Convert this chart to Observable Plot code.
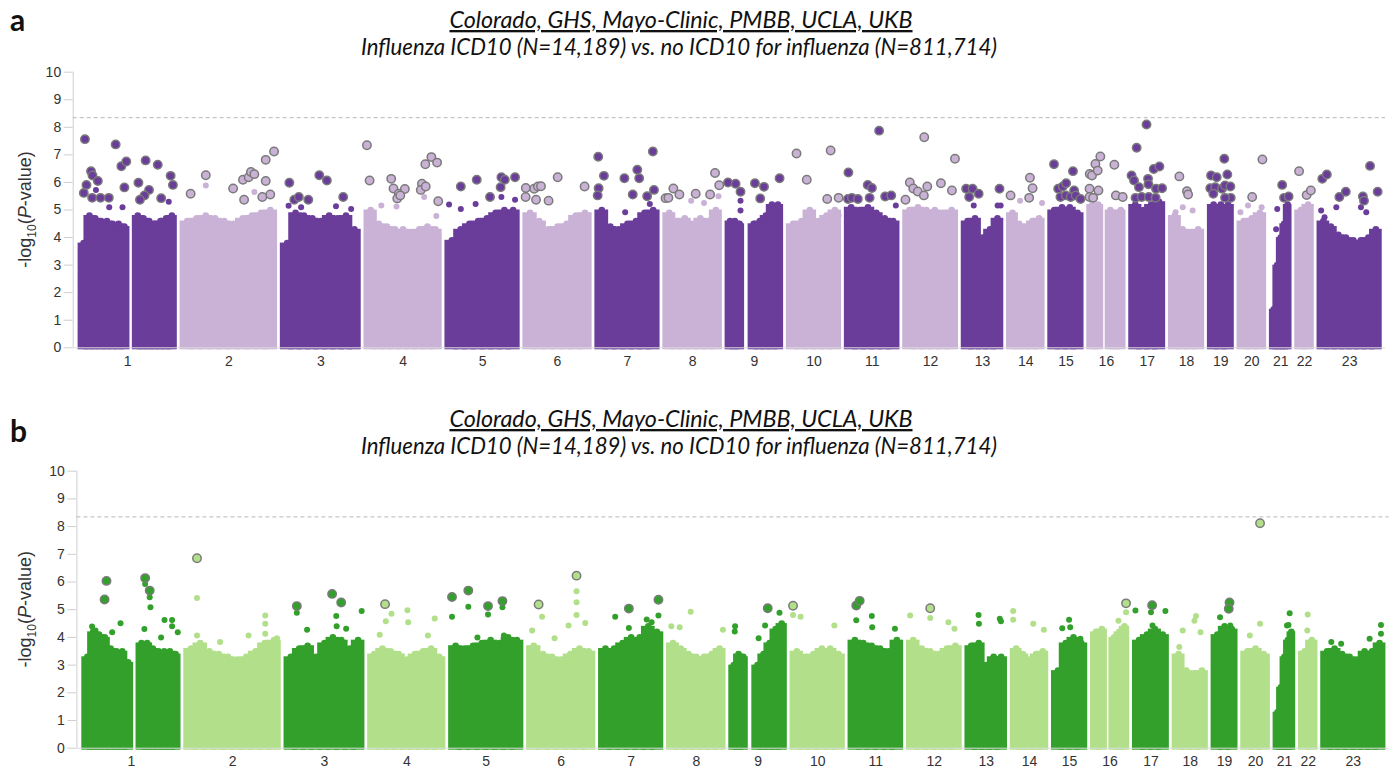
<!DOCTYPE html>
<html><head><meta charset="utf-8">
<script src="https://cdn.jsdelivr.net/npm/d3@7"></script>
<script src="https://cdn.jsdelivr.net/npm/@observablehq/plot@0.6"></script>
<style>
html,body{margin:0;padding:0;background:#fff;overflow:hidden;}
#wrap{position:relative;width:1395px;height:769px;}
.panel{position:absolute;left:0;}
#overlay{position:absolute;left:0;top:0;pointer-events:none;}
</style></head><body>
<div id="wrap">
  <div id="pa" class="panel" style="top:60px"></div>
  <div id="pb" class="panel" style="top:459px"></div>
  <svg id="overlay" width="1395" height="769"></svg>
</div>
<script>
// ---------- data ----------
const chromLabels = ["1","2","3","4","5","6","7","8","9","10","11","12","13","14","15","16","17","18","19","20","21","22","23"];
const chromStartMb = [0.8,0.0,0.1,0.1,0.0,0.2,0.0,0.2,0.2,0.1,0.2,0.1,19.0,19.2,20.5,0.1,0.0,0.0,0.3,0.0,2.2,13.5,0.0];
const chromEndMb   = [248.7,243.4,199.7,192.6,184.6,169.0,158.2,143.4,140.8,132.0,133.1,133.5,117.4,107.0,102.3,89.8,83.6,81.8,57.5,64.3,48.1,51.2,158.2];
const centromereGapMb = [[1,123.8,143.8],[9,37.9,60.9],[16,31.0,48.7]];
const chromGapMb = 21;
const thresholdLogP = 8.35;

const titleText = "Colorado, GHS, Mayo-Clinic, PMBB, UCLA, UKB";
const subtitleText = "Influenza ICD10 (N=14,189) vs. no ICD10 for influenza (N=811,714)";

const purpleColors = ["#6a3d9a", "#cab2d6"];
const greenColors = ["#33a02c", "#b2df8a"];

// dense body envelope (-log10 P) per chromosome, per segment, left to right
const bodyA = [
  [[3.8,4.8,4.7,4.6,4.6,4.5,4.5,4.4],[4.8,4.7,4.6,4.5,4.6,4.7,4.8]],
  [[4.6,4.7,4.8,4.7,4.6,4.5,4.7,4.8,4.9,5.0]],
  [[3.8,4.9,4.8,4.7,4.6,4.8,4.7,4.8,4.3]],
  [[5.0,4.5,4.4,4.3,4.3,4.2,4.3,4.4,4.3]],
  [[3.9,4.3,4.5,4.6,4.7,4.9,5.0,5.0]],
  [[4.9,4.6,4.3,4.4,4.5,4.8,4.9]],
  [[5.0,4.4,4.3,4.5,4.6,4.9,5.0]],
  [[4.9,4.6,4.7,4.5,4.7,4.6,5.0]],
  [[4.6,4.6,4.5],[4.5,4.6,4.8,5.2,5.2]],
  [[4.5,4.6,5.0,4.6,4.8,5.0]],
  [[5.1,5.0,5.1,4.9,4.7,4.6]],
  [[5.0,5.1,5.0,5.0,4.9,5.0]],
  [[4.6,4.7,4.0,4.3,4.7]],
  [[4.9,4.5,4.4,4.6,4.7]],
  [[5.0,5.1,5.1,4.9]],
  [[5.2,5.2],[5.0,4.9,5.0]],
  [[5.2,5.0,5.2,5.3]],
  [[4.8,4.3,4.2,4.3]],
  [[5.2,5.2,5.2]],
  [[4.6,4.7,4.9]],
  [[1.4,3.0,4.0,4.5,5.2]],
  [[5.0,5.2]],
  [[4.6,4.4,4.1,4.0,3.9,3.9,4.0,4.3]]
];
const bodyB = [
  [[3.3,4.2,4.1,4.0,3.6,3.5,3.5,3.1],[3.8,3.8,3.6,3.5,3.5,3.5,3.4]],
  [[3.6,3.8,3.5,3.4,3.3,3.2,3.3,3.5,3.8,3.9]],
  [[3.3,3.6,3.7,3.3,3.8,4.0,3.9,3.6,3.9]],
  [[3.4,3.6,3.5,3.4,3.2,3.4,3.5,3.6,3.3]],
  [[3.7,3.6,3.7,3.8,3.9,3.8,4.0,3.9]],
  [[3.7,3.4,3.3,3.2,3.4,3.6,3.5]],
  [[3.6,3.6,3.8,4.0,4.0,4.4,4.2]],
  [[3.8,3.6,3.4,3.3,3.3,3.4,3.6]],
  [[3.0,3.4,3.3],[3.0,3.4,3.8,4.3,4.5]],
  [[3.5,3.3,3.4,3.6,3.6,3.4]],
  [[3.9,3.8,3.7,3.6,3.5,3.9]],
  [[3.9,3.6,3.5,3.4,3.6,3.7]],
  [[3.7,3.8,3.0,3.3,3.3]],
  [[3.6,3.4,3.2,3.4,3.5]],
  [[2.8,3.8,4.0,3.8]],
  [[4.2,4.3],[4.0,4.2,4.4]],
  [[3.9,4.1,4.3,4.1]],
  [[3.4,2.8,2.7,2.8]],
  [[4.1,4.4,4.3]],
  [[3.5,3.6,3.4]],
  [[1.3,2.2,3.3,3.9,4.2]],
  [[3.5,3.9]],
  [[3.5,3.6,3.4,3.3,3.2,3.5,3.5,3.8]]
];

// individual variants above the body: [chromosome, position Mb, -log10 P, index SNP (ringed)]
const pointsA = [
[1,12,7.57,1],[1,16,5.91,1],[1,9,5.62,1],[1,28,6.41,1],[1,32,6.25,1],[1,46,6.05,1],[1,31,5.44,1],[1,53,5.44,1],[1,75,5.44,1],[1,41,5.73,0],[1,93,7.38,1],[1,108,6.59,1],[1,121,6.76,1],[1,116,5.82,1],[1,76,5.10,0],[1,111,5.10,0],
[1,153,5.99,1],[1,172,6.80,1],[1,204,6.64,1],[1,181,5.73,1],[1,169,5.53,1],[1,213,5.43,1],[1,238,6.24,1],[1,244,5.91,1],[1,233,5.30,0],[1,157,5.37,1],
[2,21,5.59,1],[2,61,6.26,1],[2,61,5.89,0],[2,133,5.78,1],[2,159,6.10,1],[2,162,5.37,1],[2,174,6.19,1],[2,180,6.38,1],[2,189,6.30,1],[2,219,6.82,1],[2,241,7.12,1],[2,219,6.05,1],[2,231,5.56,1],[2,210,5.47,1],[2,189,5.65,0],
[3,17,5.99,1],[3,30,5.37,1],[3,42,5.47,1],[3,67,5.37,1],[3,96,6.26,1],[3,116,6.07,1],[3,159,5.47,1],[3,15,5.15,0],[3,48,5.10,0],[3,140,5.14,0],[3,180,5.04,0],
[4,1,7.35,1],[4,8,6.07,1],[4,65,6.13,1],[4,71,5.78,1],[4,85,5.59,1],[4,81,5.42,1],[4,101,5.76,1],[4,89,5.53,1],[4,146,5.95,1],[4,143,5.73,1],[4,156,5.85,1],[4,155,6.66,1],[4,171,6.92,1],[4,186,6.72,1],[4,189,5.32,1],[4,152,5.47,0],[4,184,4.78,0],[4,39,5.16,0],[4,79,5.13,0],
[5,35,5.85,1],[5,77,6.10,1],[5,142,6.19,1],[5,151,6.10,1],[5,178,6.19,1],[5,140,5.83,1],[5,112,5.47,1],[5,142,5.47,0],[5,178,5.37,0],[5,74,5.22,0],[5,4,5.20,0],[5,35,5.04,0],
[6,1,5.80,1],[6,0.5,5.47,1],[6,23,5.77,1],[6,33,5.85,1],[6,41,5.86,1],[6,28,5.37,1],[6,61,5.34,1],[6,85,6.19,1],[6,156,5.85,1],
[7,2,6.93,1],[7,17,6.24,1],[7,3,5.79,1],[7,0.5,5.53,1],[7,71,6.15,1],[7,105,6.46,1],[7,110,6.15,1],[7,93,5.56,1],[7,146,7.12,1],[7,149,5.73,1],[7,131,5.50,1],[7,138,5.22,0],[7,73,4.92,0],
[8,0.5,5.43,1],[8,8,5.44,1],[8,21,5.78,1],[8,37,5.56,1],[8,80,5.59,1],[8,118,5.56,1],[8,131,6.34,1],[8,142,5.90,1],[8,140,5.50,0],[8,68,5.34,0],[8,102,5.25,0],
[9,1,6.00,1],[9,21,5.95,1],[9,34,5.66,1],[9,34,5.34,0],[9,34,4.98,0],[9,72,5.97,1],[9,96,5.84,1],[9,86,5.42,1],[9,137,6.15,1],
[10,20,7.05,1],[10,47,6.10,1],[10,101,5.40,1],[10,110,7.16,1],[10,131,5.44,1],[10,131,4.80,0],
[11,4,6.36,1],[11,3,5.40,1],[11,13,5.44,1],[11,29,5.40,1],[11,55,5.91,1],[11,66,5.80,1],[11,60,5.44,1],[11,85,7.88,1],[11,101,5.49,1],[11,117,5.53,1],[11,129,5.16,0],
[12,12,6.00,1],[12,21,5.78,1],[12,50,7.64,1],[12,58,5.85,1],[12,33,5.67,1],[12,49,5.53,1],[12,0.5,5.37,1],[12,94,5.97,1],[12,123,5.71,1],[12,131,6.86,1],
[13,25,5.77,1],[13,42,5.77,1],[13,33,5.47,1],[13,58,5.59,1],[13,113,5.77,1],[13,45,5.16,0],[13,108,5.16,0],[13,116,5.16,0],
[14,23,5.53,1],[14,74,6.17,1],[14,81,5.79,1],[14,72,5.44,1],[14,106,5.25,0],[14,48,5.34,0],
[15,30,6.66,1],[15,80,6.41,1],[15,41,5.77,1],[15,53,5.85,1],[15,62,5.97,1],[15,83,5.71,1],[15,47,5.47,1],[15,61,5.53,1],[15,74,5.47,1],[15,87,5.53,1],[15,100,5.40,1],
[16,1,6.31,1],[16,7,6.25,1],[16,0.5,5.77,1],[16,0.5,5.47,1],[16,16,6.67,1],[16,29,6.94,1],[16,22,6.43,1],[16,24,5.71,1],[16,10,5.44,1],[16,66,6.64,1],[16,70,5.53,1],[16,88,5.47,1],
[17,40,8.10,1],[17,14,7.26,1],[17,0.5,6.25,1],[17,7,6.07,1],[17,20,5.83,1],[17,44,6.13,1],[17,45,5.93,1],[17,59,6.49,1],[17,74,6.58,1],[17,65,5.77,1],[17,81,5.79,1],[17,11,5.44,1],[17,27,5.47,1],[17,46,5.47,1],[17,64,5.44,1],
[18,22,6.22,1],[18,42,5.68,1],[18,45,5.56,1],[18,12,4.92,0],[18,31,5.10,0],[18,57,4.98,0],
[19,38,6.86,1],[19,3,6.25,1],[19,18,6.19,1],[19,46,6.29,1],[19,1,5.79,1],[19,14,5.83,1],[19,9,5.59,1],[19,32,5.77,1],[19,40,5.89,1],[19,54,5.85,1],[19,55,5.44,1],[19,40,5.44,1],
[20,33,5.47,1],[20,60,6.83,1],[20,2,4.92,0],[20,22,5.16,0],[20,58,5.10,0],
[21,29,5.91,1],[21,34,5.44,1],[21,46,5.49,1],[21,16,5.04,0],[21,13,4.30,0],
[22,18,6.41,1],[22,38,5.54,1],[22,49,5.71,1],
[23,7,6.13,1],[23,19,6.29,1],[23,52,5.47,1],[23,69,5.66,1],[23,133,6.60,1],[23,114,5.49,1],[23,117,5.34,1],[23,153,5.66,1],[23,4,4.98,0],[23,13,4.74,0],[23,44,5.10,0],[23,109,5.10,0],[23,123,4.92,0]
];
const pointsB = [
[1,59,6.04,1],[1,54,5.37,1],[1,161,6.14,1],[1,173,5.69,1],[1,161,5.93,0],[1,173,5.45,0],[1,175,5.09,0],[1,96,4.51,0],[1,212,4.63,0],[1,232,4.63,0],[1,232,4.40,0],[1,247,4.19,0],[1,203,4.00,0],[1,21,4.39,0],[1,74,4.19,0],[1,30,4.25,0],[1,40,4.10,0],[1,159,4.30,0],
[2,28,6.86,1],[2,28,5.42,0],[2,208,4.79,0],[2,208,4.49,0],[2,208,4.13,0],[2,164,4.07,0],[2,239,3.97,0],[2,89,3.83,0],[2,28,4.07,0],
[3,27,5.13,1],[3,27,4.89,0],[3,120,5.57,1],[3,144,5.26,1],[3,198,4.95,0],[3,131,4.77,0],[3,132,4.40,0],[3,54,4.28,0],[3,157,4.31,0],
[4,39,5.20,1],[4,98,4.98,0],[4,56,4.85,0],[4,41,4.58,0],[4,100,4.55,0],[4,170,4.68,0],[4,25,4.10,0],[4,152,4.07,0],
[5,2,5.46,1],[5,45,5.69,1],[5,97,5.13,1],[5,135,5.31,1],[5,2,4.75,0],[5,45,5.11,0],[5,97,4.83,0],[5,135,5.09,0],[5,69,4.00,0],[5,139,4.07,0],
[6,25,5.19,1],[6,125,6.23,1],[6,125,5.67,0],[6,125,5.27,0],[6,125,4.81,0],[6,148,4.52,0],[6,104,4.43,0],[6,34,4.75,0],[6,8,4.25,0],[6,67,3.97,0],
[7,73,5.04,1],[7,151,5.36,1],[7,37,4.75,0],[7,151,4.79,0],[7,133,4.55,0],[7,120,4.65,0],[7,73,4.34,0],
[8,57,4.93,0],[8,6,4.40,0],[8,28,4.37,0],[8,142,4.28,0],
[9,96,5.05,1],[9,10,4.40,0],[9,9,4.21,0],[9,127,4.89,0],[9,89,4.43,0],[9,72,3.97,0],
[10,1,5.14,1],[10,1,4.81,0],[10,21,4.75,0],[10,110,4.43,0],
[11,15,5.15,1],[11,24,5.32,1],[11,15,4.62,0],[11,56,4.77,0],[11,117,4.31,0],[11,57,4.37,0],
[12,56,5.05,1],[12,56,4.70,0],[12,3,4.79,0],[12,104,4.55,0],[12,120,4.31,0],
[13,48,4.81,0],[13,49,4.49,0],[13,104,4.67,0],[13,107,4.58,0],
[14,20,4.95,0],[14,20,4.64,0],[14,73,4.49,0],[14,101,4.28,0],
[15,60,4.64,0],[15,63,4.37,0],[15,42,4.33,0],[15,90,3.95,0],
[16,87,5.23,1],[16,87,4.91,0],[16,67,4.60,0],
[17,45,5.16,1],[17,1,4.97,0],[17,80,4.95,0],[17,42,4.91,0],[17,46,4.43,0],
[18,56,4.77,0],[18,52,4.60,0],[18,21,4.25,0],[18,12,3.65,0],[18,68,4.19,0],
[19,42,5.26,1],[19,40,5.03,1],[19,17,4.73,0],[19,44,4.43,0],
[20,44,8.12,1],[20,44,4.49,0],[20,17,4.07,0],
[21,39,4.87,0],[21,32,4.43,0],[21,36,4.45,0],
[22,31,4.83,0],[22,30,4.25,0],
[23,152,4.45,0],[23,152,4.13,0],[23,122,3.95,0],[23,47,3.77,0],[23,21,3.83,0]
];

// ---------- layout helpers ----------
const offsets = [];
chromLabels.forEach((_, i) => {
  offsets.push(i === 0 ? 0 : offsets[i-1] + (chromEndMb[i-1] - chromStartMb[i-1]) + chromGapMb);
});
const cum = (i, pos) => offsets[i] + pos - chromStartMb[i];
const mids = chromLabels.map((_, i) => (cum(i, chromStartMb[i]) + cum(i, chromEndMb[i])) / 2);
const labelOf = new Map(mids.map((m, i) => [m, chromLabels[i]]));
const xDomain = [-19.8, 3440.9];

function buildBins(body, pal) {
  const bins = [];
  chromLabels.forEach((lab, i) => {
    const g = centromereGapMb.find(d => d[0] === i + 1);
    const segs = g ? [[chromStartMb[i], g[1]], [g[2], chromEndMb[i]]] : [[chromStartMb[i], chromEndMb[i]]];
    body[i].forEach((hs, s) => {
      const [a, b] = segs[s];
      const w = (b - a) / hs.length;
      hs.forEach((h, k) => bins.push({x1: cum(i, a + k * w), x2: cum(i, a + (k + 1) * w), h, fill: pal[i % 2]}));
    });
  });
  return bins;
}
function buildPts(pts, pal) {
  return pts.map(([c, pos, p, hit]) => ({x: cum(c - 1, pos), y: p, hit, fill: pal[(c - 1) % 2]}));
}

function panel(body, pts, pal, m) {
  const bins = buildBins(body, pal);
  const P = buildPts(pts, pal);
  return Plot.plot({
    width: 1395, height: m.height,
    marginLeft: m.left, marginRight: m.right, marginTop: m.top, marginBottom: m.bottom,
    x: {domain: xDomain},
    y: {domain: [0, 10]},
    color: {type: "identity"},
    style: {fontFamily: "'Liberation Sans', Arial, sans-serif", background: "transparent", overflow: "visible"},
    marks: [
      Plot.rect(bins, {x1: "x1", x2: "x2", y1: 0, y2: "h", fill: "fill", insetLeft: -2.6, insetRight: -2.6, insetBottom: -2}),
      Plot.dot(bins, {x: d => (d.x1 + d.x2) / 2, y: "h", r: 3.3, fill: "fill"}),
      Plot.ruleY([0], {stroke: "#dcdcdc", strokeWidth: 1}),
      Plot.ruleX([xDomain[0]], {y1: 0, y2: 10, stroke: "#cfcfcf"}),
      Plot.ruleY([thresholdLogP], {stroke: "#b8b8b8", strokeDasharray: "4,3"}),
      Plot.dot(P.filter(d => !d.hit), {x: "x", y: "y", r: 3, fill: "fill"}),
      Plot.dot(P.filter(d => d.hit), {x: "x", y: "y", r: 4.2, fill: "fill", stroke: "#7a7a7a", strokeWidth: 1.5}),
      Plot.axisY(d3.range(0, 11), {tickSize: 9, tickPadding: 3, fontSize: 14, color: "#333", stroke: "#cfcfcf", label: null}),
      Plot.axisX(mids, {tickSize: 0, tickPadding: 8, fontSize: 14, color: "#333", tickFormat: d => labelOf.get(d), label: null})
    ]
  });
}

document.getElementById("pa").appendChild(panel(bodyA, pointsA, purpleColors, {height: 320, top: 11.7, bottom: 32.7, left: 72.7, right: 10}));
document.getElementById("pb").appendChild(panel(bodyB, pointsB, greenColors, {height: 310, top: 11.7, bottom: 21.3, left: 76.4, right: 6.3}));

// ---------- titles & axis labels ----------
const ov = d3.select("#overlay");
const titleFont = "Lato, 'Open Sans', sans-serif";
[[31, 28, 55, 209.5, "a"], [442, 427, 454, 609.2, "b"]].forEach(([lab, t, s, yc, letter]) => {
  ov.append("text").attr("x", 10).attr("y", lab).attr("font-family", titleFont).attr("font-weight", 700)
    .attr("font-size", 30).attr("fill", "#111").text(letter);
  ov.append("text").attr("x", 681).attr("y", t).attr("text-anchor", "middle").attr("font-family", titleFont)
    .attr("font-style", "italic").attr("font-size", 23.3).attr("fill", "#111")
    .style("text-decoration", "underline").text(titleText);
  ov.append("text").attr("x", 679).attr("y", s).attr("text-anchor", "middle").attr("font-family", titleFont)
    .attr("font-style", "italic").attr("font-size", 22.2).attr("fill", "#111").text(subtitleText);
  const yl = ov.append("text").attr("transform", `translate(31,${yc}) rotate(-90)`).attr("text-anchor", "middle")
    .attr("font-family", "'Liberation Sans', Arial, sans-serif").attr("font-size", 18).attr("fill", "#333");
  yl.append("tspan").text("-log");
  yl.append("tspan").attr("font-size", 12).attr("dy", 5).text("10");
  yl.append("tspan").attr("dy", -5).text("(");
  yl.append("tspan").attr("font-style", "italic").text("P");
  yl.append("tspan").text("-value)");
});
</script>
</body></html>
